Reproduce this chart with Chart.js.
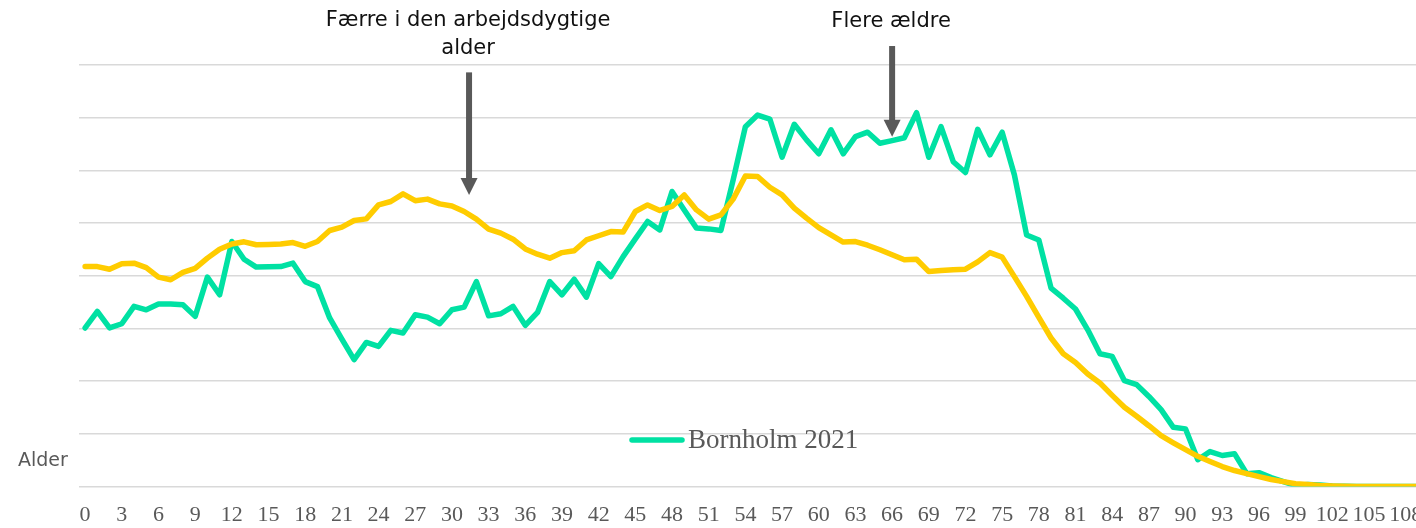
<!DOCTYPE html>
<html>
<head>
<meta charset="utf-8">
<script src="https://cdn.jsdelivr.net/npm/chart.js@4/dist/chart.umd.min.js"></script>
<style>
  body { margin: 0; background: #fff; }
  #wrap { position: relative; width: 1416px; height: 528px; overflow: hidden; }
</style>
</head>
<body>
<div id="wrap"><canvas id="chart" width="1440" height="528"></canvas></div>
<script>
// alder (kategorier)
const ages = [0,1,2,3,4,5,6,7,8,9,10,11,12,13,14,15,16,17,18,19,20,21,22,23,24,25,26,27,28,29,
  30,31,32,33,34,35,36,37,38,39,40,41,42,43,44,45,46,47,48,49,50,51,52,53,54,55,56,57,58,59,
  60,61,62,63,64,65,66,67,68,69,70,71,72,73,74,75,76,77,78,79,80,81,82,83,84,85,86,87,88,89,
  90,91,92,93,94,95,96,97,98,99,100,101,102,103,104,105,106,107,108,109];

// andel af befolkningen (%), aflæst
const bornholm2021 = [0.602,0.665,0.602,0.618,0.684,0.671,0.693,0.693,0.690,0.646,
  0.795,0.728,0.930,0.863,0.833,0.834,0.835,0.848,0.778,0.759,
  0.640,0.560,0.482,0.547,0.532,0.593,0.583,0.652,0.643,0.618,
  0.671,0.681,0.778,0.648,0.656,0.684,0.612,0.661,0.778,0.728,
  0.787,0.719,0.846,0.797,0.873,0.940,1.006,0.974,1.120,1.050,
  0.981,0.978,0.972,1.164,1.366,1.410,1.395,1.250,1.375,1.316,
  1.263,1.354,1.263,1.328,1.345,1.303,1.313,1.324,1.419,1.250,
  1.366,1.233,1.192,1.356,1.259,1.345,1.183,0.955,0.936,0.753,
  0.715,0.674,0.595,0.504,0.494,0.402,0.387,0.342,0.292,0.225,
  0.219,0.102,0.133,0.118,0.125,0.049,0.053,0.034,0.019,0.004,
  0.008,0.006,0.002,0.001,0,0,0,0,0,0];

const sammenligning = [0.835,0.835,0.825,0.846,0.848,0.831,0.795,0.785,0.813,0.828,
  0.867,0.901,0.921,0.929,0.918,0.919,0.921,0.926,0.912,0.930,
  0.972,0.985,1.010,1.016,1.069,1.082,1.111,1.085,1.091,1.073,
  1.065,1.044,1.015,0.977,0.962,0.939,0.902,0.882,0.867,0.888,
  0.895,0.936,0.952,0.968,0.966,1.044,1.069,1.048,1.063,1.107,
  1.050,1.015,1.031,1.091,1.179,1.177,1.136,1.107,1.057,1.019,
  0.983,0.955,0.928,0.930,0.916,0.899,0.880,0.861,0.863,0.816,
  0.820,0.823,0.825,0.853,0.888,0.871,0.797,0.722,0.642,0.564,
  0.504,0.471,0.427,0.393,0.346,0.301,0.267,0.231,0.193,0.166,
  0.140,0.115,0.095,0.076,0.061,0.049,0.038,0.027,0.019,0.011,
  0.008,0.004,0.002,0.001,0,0,0,0,0,0];

const legendLabel = 'Bornholm 2021';
const axisTitle = 'Alder';
// pile: tekst-linjer, alder (x), top og spids (værdi)
const arrows = [
  { lines: ['Færre i den arbejdsdygtige', 'alder'], x: 31.4, from: 1.572, to: 1.107 },
  { lines: ['Flere ældre'], x: 66, from: 1.672, to: 1.328 }
];

const GREEN = '#00E1A3';
const YELLOW = '#FFCC00';
const GREY = '#595959';

const extras = {
  id: 'extras',
  afterDraw(chart) {
    const c = chart.ctx;
    const xs = chart.scales.x, ys = chart.scales.y;
    c.save();
    // akse-titel
    c.font = '19px "DejaVu Sans"';
    c.fillStyle = GREY;
    c.textAlign = 'left';
    c.textBaseline = 'middle';
    c.fillText(axisTitle, 18, 461);

    // pile og tekster
    arrows.forEach(a => {
      const x = xs.getPixelForValue(a.x);
      const y0 = ys.getPixelForValue(a.from);
      const y1 = ys.getPixelForValue(a.to);
      c.fillStyle = '#111';
      c.font = '21px "DejaVu Sans"';
      c.textAlign = 'center';
      c.textBaseline = 'middle';
      const n = a.lines.length;
      a.lines.forEach((t, i) => {
        c.fillText(t, x - 1, y0 - 24 - (n - 1 - i) * 28);
      });
      c.fillStyle = GREY;
      c.fillRect(x - 3, y0, 6, (y1 - y0) - 16);
      c.beginPath();
      c.moveTo(x - 8.5, y1 - 17);
      c.lineTo(x + 8.5, y1 - 17);
      c.lineTo(x, y1);
      c.closePath();
      c.fill();
    });

    // forklaring
    c.strokeStyle = GREEN;
    c.lineWidth = 5.5;
    c.lineCap = 'round';
    c.beginPath();
    c.moveTo(632, 440);
    c.lineTo(682, 440);
    c.stroke();
    c.fillStyle = GREY;
    c.font = '27px "Liberation Serif"';
    c.textAlign = 'left';
    c.textBaseline = 'alphabetic';
    c.fillText(legendLabel, 688, 448);
    c.restore();
  }
};

new Chart(document.getElementById('chart'), {
  type: 'line',
  data: {
    labels: ages,
    datasets: [{
      label: legendLabel,
      data: bornholm2021,
      borderColor: GREEN,
      borderWidth: 5.5,
      pointRadius: 0,
      tension: 0,
      borderJoinStyle: 'round',
      borderCapStyle: 'round',
      order: 1
    }, {
      label: '',
      data: sammenligning,
      borderColor: YELLOW,
      borderWidth: 5.5,
      pointRadius: 0,
      tension: 0,
      borderJoinStyle: 'round',
      borderCapStyle: 'round',
      order: 0
    }]
  },
  options: {
    responsive: false,
    animation: false,
    devicePixelRatio: 1,
    layout: { padding: { left: 79, top: 65, right: 16, bottom: 0 } },
    scales: {
      x: {
        offset: true,
        border: { display: false },
        grid: {
          display: true,
          drawOnChartArea: false,
          drawTicks: true,
          tickLength: 15,
          tickColor: 'rgba(0,0,0,0)'
        },
        ticks: {
          autoSkip: false,
          maxRotation: 0,
          minRotation: 0,
          padding: 0,
          color: GREY,
          font: { family: '"Liberation Serif"', size: 22 },
          callback: function (val, idx) {
            return idx % 3 === 0 ? String(this.getLabelForValue(val)) : '';
          }
        }
      },
      y: {
        min: 0,
        max: 1.6,
        border: { display: false },
        grid: { color: '#D9D9D9', lineWidth: 1.5, drawTicks: false },
        ticks: { display: false, stepSize: 0.2 }
      }
    },
    plugins: {
      legend: { display: false },
      tooltip: { enabled: false },
      title: { display: false }
    }
  },
  plugins: [extras]
});
</script>
</body>
</html>
